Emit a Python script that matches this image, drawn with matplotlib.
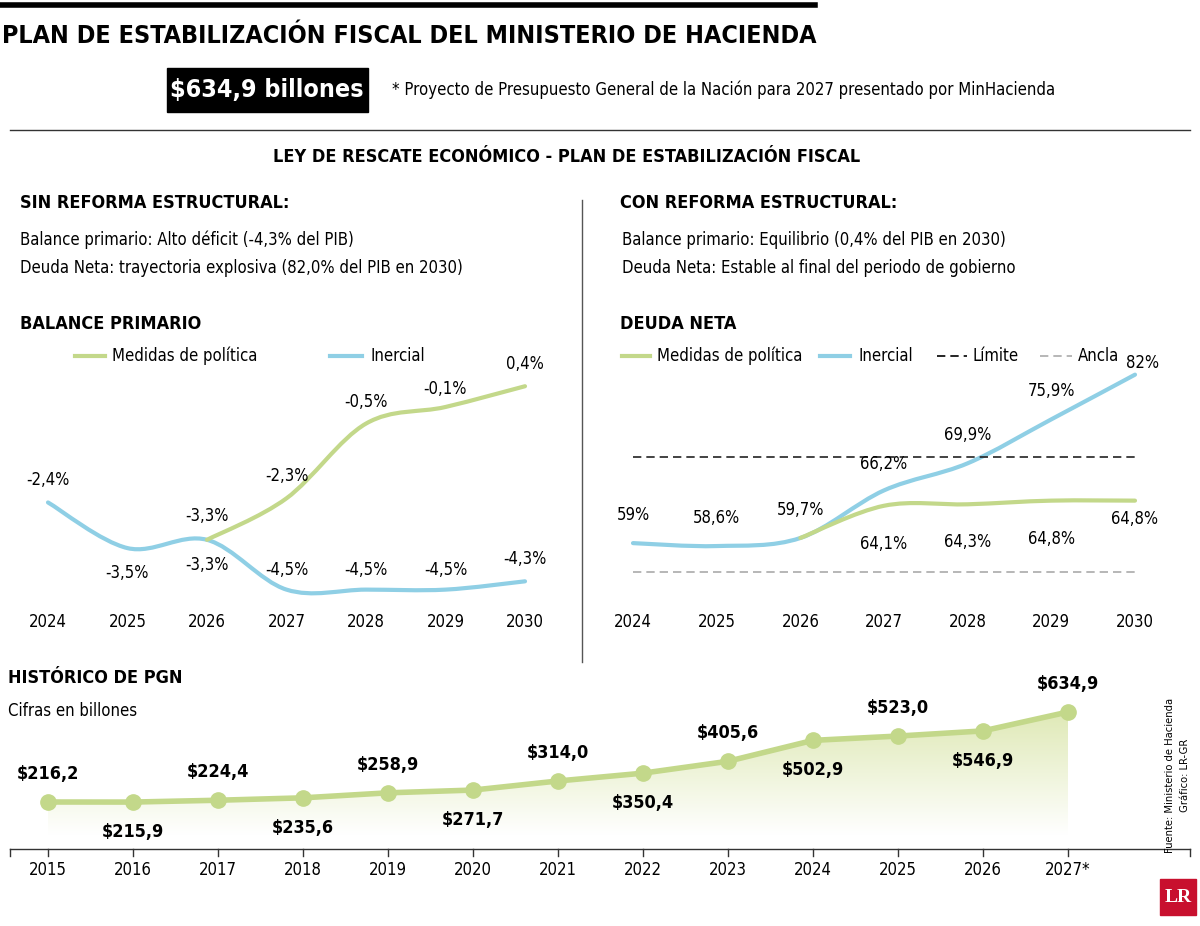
import matplotlib
matplotlib.use("Agg")
import matplotlib.pyplot as plt
import numpy as np
from matplotlib.path import Path
from matplotlib.patches import PathPatch, Rectangle
from matplotlib.colors import LinearSegmentedColormap

plt.rcParams['font.family'] = ['DejaVu Sans']
plt.rcParams['font.stretch'] = 'condensed'

# ---------------- data ----------------
bp_years = [2024, 2025, 2026, 2027, 2028, 2029, 2030]
bp_inercial = [-2.4, -3.5, -3.3, -4.5, -4.5, -4.5, -4.3]
bp_med_years = [2026, 2027, 2028, 2029, 2030]
bp_medidas = [-3.3, -2.3, -0.5, -0.1, 0.4]

dn_years = [2024, 2025, 2026, 2027, 2028, 2029, 2030]
dn_inercial = [59.0, 58.6, 59.7, 66.2, 69.9, 75.9, 82.0]
dn_med_years = [2026, 2027, 2028, 2029, 2030]
dn_medidas = [59.7, 64.1, 64.3, 64.8, 64.8]
dn_limite = 70.8
dn_ancla = 55.0

pgn_years = list(range(2015, 2028))
pgn_labels = [str(y) for y in range(2015, 2027)] + ["2027*"]
pgn_values = [216.2, 215.9, 224.4, 235.6, 258.9, 271.7, 314.0, 350.4, 405.6, 502.9, 523.0, 546.9, 634.9]

GREEN = '#c3d88a'
BLUE = '#8fcfe5'
W, H = 1200, 926
fig = plt.figure(figsize=(12, 9.26), dpi=100)

def fx(x): return x / W
def fy(y): return 1 - y / H
def T(x, y, s, size=12, weight='normal', ha='left', va='center', color='black', **kw):
    fig.text(fx(x), fy(y), s, fontsize=size, fontweight=weight, ha=ha, va=va, color=color, **kw)
def L(x0, x1, y0, y1, **kw):
    fig.add_artist(plt.Line2D([fx(x0), fx(x1)], [fy(y0), fy(y1)], transform=fig.transFigure, **kw))
def ax_px(x0, x1, y0, y1):
    a = fig.add_axes([fx(x0), fy(y1), (x1 - x0) / W, (y1 - y0) / H])
    a.axis('off')
    return a

def smooth_path(xs, ys):
    xs = np.asarray(xs, float); ys = np.asarray(ys, float)
    verts = [(xs[0], ys[0])]; codes = [Path.MOVETO]
    n = len(xs)
    for i in range(n - 1):
        p0 = i - 1 if i > 0 else i
        p3 = i + 2 if i + 2 < n else i + 1
        c1 = (xs[i] + (xs[i + 1] - xs[p0]) / 6, ys[i] + (ys[i + 1] - ys[p0]) / 6)
        c2 = (xs[i + 1] - (xs[p3] - xs[i]) / 6, ys[i + 1] - (ys[p3] - ys[i]) / 6)
        verts += [c1, c2, (xs[i + 1], ys[i + 1])]
        codes += [Path.CURVE4] * 3
    return Path(verts, codes)

def draw_smooth(ax, xs, ys, color):
    ax.add_patch(PathPatch(smooth_path(xs, ys), facecolor='none', edgecolor=color, lw=3, clip_on=False, capstyle='round'))

# ---------------- header ----------------
L(0, 815, 5, 5, color='black', lw=4)
T(2, 36, "PLAN DE ESTABILIZACIÓN FISCAL DEL MINISTERIO DE HACIENDA", size=18, weight='bold')
fig.add_artist(Rectangle((fx(167), fy(112)), 201 / W, 44 / H, transform=fig.transFigure, color='black'))
T(267, 90, "$634,9 billones", size=18, weight='bold', ha='center', color='white')
T(392, 90, "* Proyecto de Presupuesto General de la Nación para 2027 presentado por MinHacienda", size=12)
L(10, 1190, 130, 130, color='#333333', lw=1)
T(567, 157, "LEY DE RESCATE ECONÓMICO - PLAN DE ESTABILIZACIÓN FISCAL", size=13, weight='bold', ha='center')
L(582, 582, 200, 662, color='#555555', lw=1)

T(20, 203, "SIN REFORMA ESTRUCTURAL:", size=13, weight='bold')
T(20, 240, "Balance primario: Alto déficit (-4,3% del PIB)", size=12)
T(20, 268, "Deuda Neta: trayectoria explosiva (82,0% del PIB en 2030)", size=12)
T(620, 203, "CON REFORMA ESTRUCTURAL:", size=13, weight='bold')
T(622, 240, "Balance primario: Equilibrio (0,4% del PIB en 2030)", size=12)
T(622, 268, "Deuda Neta: Estable al final del periodo de gobierno", size=12)

# ---------------- balance primario ----------------
T(20, 324, "BALANCE PRIMARIO", size=13, weight='bold')
L(75, 105, 356, 356, color=GREEN, lw=3)
T(112, 356, "Medidas de política", size=12)
L(330, 362, 356, 356, color=BLUE, lw=3)
T(370, 356, "Inercial", size=12)

a1 = ax_px(48, 525, 380, 600)
a1.set_xlim(2024, 2030); a1.set_ylim(-4.75, 0.55)
draw_smooth(a1, bp_years, bp_inercial, BLUE)
draw_smooth(a1, bp_med_years, bp_medidas, GREEN)
tr1 = a1.get_xaxis_transform()
for x in bp_years:
    a1.text(x, -0.1, str(x), transform=tr1, ha='center', va='center', fontsize=12)
in_off = [(0, 22), (0, -25), (0, -25), (0, 20), (0, 20), (0, 20), (0, 22)]
for x, v, (dx, dy) in zip(bp_years, bp_inercial, in_off):
    a1.annotate(f"{v:.1f}%".replace('.', ','), (x, v), xytext=(dx, dy), textcoords='offset pixels',
                ha='center', va='center', fontsize=12)
med_off = [(0, 22), (0, 22), (0, 18), (0, 22)]
for x, v, (dx, dy) in zip(bp_med_years[1:], bp_medidas[1:], med_off):
    a1.annotate(f"{v:.1f}%".replace('.', ','), (x, v), xytext=(dx, dy), textcoords='offset pixels',
                ha='center', va='center', fontsize=12)
a1.annotate("-3,3%", (2026, -3.3), xytext=(0, 24), textcoords='offset pixels', ha='center', va='center', fontsize=12)

# ---------------- deuda neta ----------------
T(620, 324, "DEUDA NETA", size=13, weight='bold')
L(622, 650, 356, 356, color=GREEN, lw=3)
T(657, 356, "Medidas de política", size=12)
L(820, 850, 356, 356, color=BLUE, lw=3)
T(858, 356, "Inercial", size=12)
L(937, 967, 356, 356, color='black', lw=1.2, ls=(0, (5, 3)))
T(973, 356, "Límite", size=12)
L(1040, 1072, 356, 356, color='#aaaaaa', lw=1.2, ls=(0, (5, 3)))
T(1078, 356, "Ancla", size=12)

a2 = ax_px(633, 1135, 360, 590)
a2.set_xlim(2024, 2030); a2.set_ylim(52.6, 84.0)
a2.plot([2024, 2030], [dn_limite] * 2, color='#222222', lw=1.2, ls=(0, (5, 3)), clip_on=False)
a2.plot([2024, 2030], [dn_ancla] * 2, color='#aaaaaa', lw=1.2, ls=(0, (5, 3)), clip_on=False)
draw_smooth(a2, dn_years, dn_inercial, BLUE)
draw_smooth(a2, dn_med_years, dn_medidas, GREEN)
tr2 = a2.get_xaxis_transform()
for x in dn_years:
    a2.text(x, -0.14, str(x), transform=tr2, ha='center', va='center', fontsize=12)
in_off2 = [(0, 28), (0, 28), (0, 28), (0, 26), (0, 28), (0, 28), (8, 12)]
for x, v, (dx, dy) in zip(dn_years, dn_inercial, in_off2):
    s = f"{v:g}".replace('.', ',') + "%"
    a2.annotate(s, (x, v), xytext=(dx, dy), textcoords='offset pixels',
                ha='center', va='center', fontsize=12)
for x, v in zip(dn_med_years[1:], dn_medidas[1:]):
    a2.annotate(f"{v:.1f}%".replace('.', ','), (x, v), xytext=(0, -38 if x < 2030 else -18),
                textcoords='offset pixels', ha='center', va='center', fontsize=12)

# ---------------- histórico PGN ----------------
T(8, 678, "HISTÓRICO DE PGN", size=13, weight='bold')
T(8, 711, "Cifras en billones", size=12)
a3 = ax_px(48, 1068, 700, 835)
a3.set_xlim(2015, 2027); a3.set_ylim(62.7, 690.7)
grad = np.linspace(0, 1, 256).reshape(-1, 1)
cmap = LinearSegmentedColormap.from_list('g', ['#ffffff', '#dfe9b6'])
im = a3.imshow(grad, extent=[2015, 2027, 62.7, max(pgn_values)], origin='lower', cmap=cmap, aspect='auto', zorder=0)
poly = a3.fill_between(pgn_years, pgn_values, 62.7, color='none')
im.set_clip_path(poly.get_paths()[0], transform=a3.transData)
a3.set_xlim(2015, 2027); a3.set_ylim(62.7, 690.7)
a3.plot(pgn_years, pgn_values, color=GREEN, lw=4, marker='o', ms=11, clip_on=False, zorder=3)
for i, (x, v) in enumerate(zip(pgn_years, pgn_values)):
    up = i % 2 == 0
    if x in (2024, 2026):
        up = False
    if x == 2025:
        up = True
    a3.annotate(f"${v:.1f}".replace('.', ','), (x, v), xytext=(0, 28 if up else -30), textcoords='offset pixels',
                ha='center', va='center', fontsize=13, fontweight='bold')

L(10, 1190, 849, 849, color='#333333', lw=1)
for i, x in enumerate(pgn_years):
    px = 48 + (1068 - 48) * i / 12
    L(px, px, 849, 856, color='#333333', lw=1)
    T(px, 870, pgn_labels[i], size=12, ha='center')
for px in [10, 1190]:
    L(px, px, 849, 856, color='#333333', lw=1)

T(1170, 775, "Fuente: Ministerio de Hacienda", size=8, rotation=90, ha='center')
T(1185, 775, "Gráfico: LR-GR", size=8, rotation=90, ha='center', va='center')
fig.add_artist(Rectangle((fx(1160), fy(915)), 36 / W, 36 / H, transform=fig.transFigure, color='#c8102e'))
T(1178, 897, "LR", size=14, weight='bold', ha='center', color='white', family='Liberation Serif')

fig.savefig("out.png", dpi=100)
